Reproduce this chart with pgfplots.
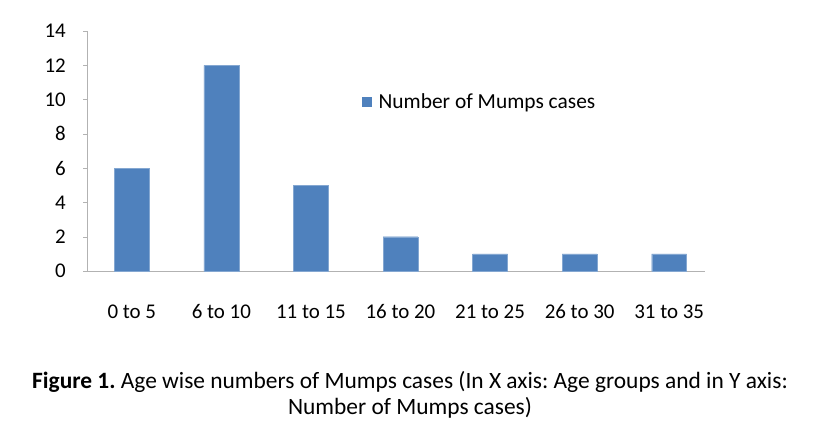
\documentclass[border=0pt]{standalone}
\usepackage{pgfplots}
\pgfplotsset{compat=1.18}
\usepackage{fontspec}
\setmainfont{Carlito}
\frenchspacing
\definecolor{barblue}{HTML}{4F81BD}
\begin{document}
\begin{tikzpicture}
\path[use as bounding box] (-87bp,-160bp) rectangle (734bp,271bp);
\begin{axis}[
  at={(0,0)}, anchor=south west,
  scale only axis,
  width=618bp, height=240bp,
  xmin=-0.5, xmax=6.4,
  ymin=0, ymax=14,
  ytick={0,2,...,14},
  xtick={0,...,6},
  xticklabels={0 to 5,6 to 10,11 to 15,16 to 20,21 to 25,26 to 30,31 to 35},
  x tick label style={font=\fontsize{21}{23}\selectfont, anchor=base, yshift=-43bp},
  y tick label style={font=\fontsize{21}{23}\selectfont, inner sep=0pt, xshift=-17bp},
  axis x line*=bottom, axis y line*=left,
  axis line style={gray!60, thin},
  every tick/.style={gray!60, thin},
  tick align=outside,
  major tick length=4bp,
  x tick style={draw=none},
  extra x ticks={-0.5,0.5,1.5,2.5,3.5,4.5,5.5},
  extra x tick labels={},
  extra x tick style={tick style={gray!60, thin, draw=gray!60}, major tick length=4bp},
  ybar, bar width=0.39,
  /pgf/number format/assume math mode=true,
  legend style={at={(0.445,0.704)}, anchor=west, draw=none, fill=none,
    font=\fontsize{21.5}{24}\selectfont, inner sep=0pt, /tikz/column sep=5bp},
  legend image code/.code={\fill[barblue] (0bp,-4.5bp) rectangle (9bp,4.5bp);},
  clip=false,
]
\addplot[fill=barblue, draw=barblue!70!white] coordinates {(0,6) (1,12) (2,5) (3,2) (4,1) (5,1) (6,1)};
\addlegendentry{Number of Mumps cases}
\end{axis}
\node[align=center, font=\fontsize{23.5}{26}\selectfont] at (323bp,-124bp)
  {\textbf{Figure 1.} Age wise numbers of Mumps cases (In X axis: Age groups and in Y axis:\\Number of Mumps cases)};
\end{tikzpicture}
\end{document}
